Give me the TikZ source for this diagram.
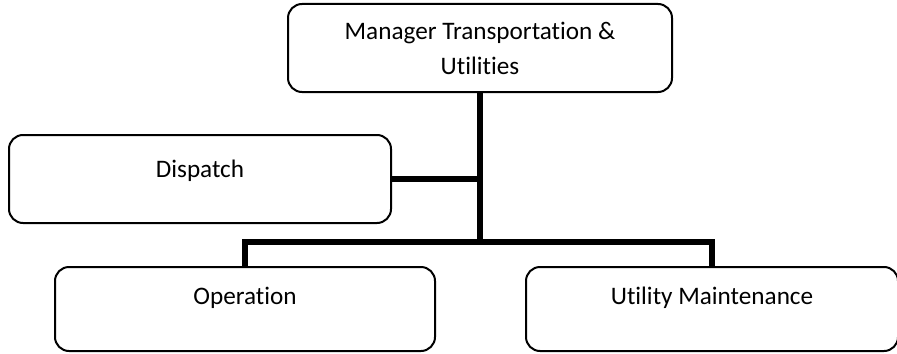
\documentclass[tikz,border=0pt]{standalone}
\usepackage{fontspec}
\setmainfont{Carlito}[Ligatures={NoCommon,NoContextual}]
\usepackage{tikz}

\begin{document}
\begin{tikzpicture}[x=0.5pt,y=-0.5pt]
\tikzstyle{every node}=[font=\fontsize{12.6}{17.5}\selectfont];
\tikzstyle{unit}=[draw,line width=1pt,rounded corners=7pt,align=center,inner sep=0pt];
\tikzstyle{link}=[line width=2.8pt];
\useasboundingbox (0,0) rectangle (897,353);
\node[unit,minimum width=192pt,minimum height=44pt] (mgr) at (480,48) {Manager Transportation \&\\Utilities};
\node[unit,minimum width=191pt,minimum height=44pt,text height=8pt,text depth=9.4pt] (disp) at (200,179) {Dispatch};
\node[unit,minimum width=190pt,minimum height=42pt,text height=8pt,text depth=12.9pt] (ops) at (245,309) {Operation};
\node[unit,minimum width=186pt,minimum height=42pt,text height=8pt,text depth=12.9pt] (util) at (712,309) {Utility Maintenance};
\coordinate (split) at (480,242);
\draw[link] (mgr.south) -- (split);
\draw[link] (disp.east) -- (mgr.south |- disp.east);
\draw[link] (ops.north) |- (split) -| (util.north);
\end{tikzpicture}
\end{document}
